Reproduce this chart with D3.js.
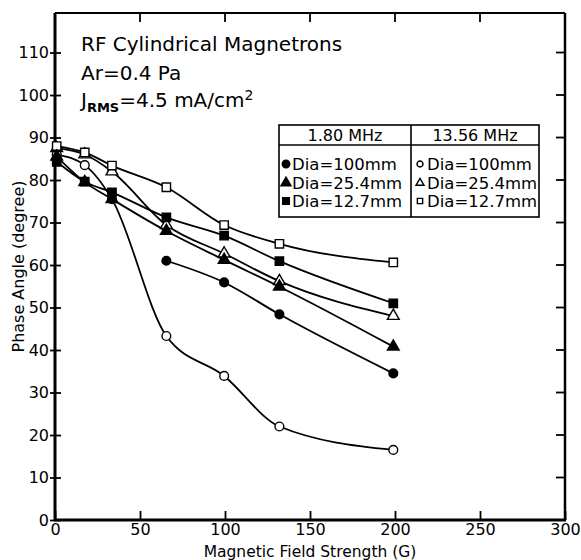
<!DOCTYPE html>
<meta charset="utf-8">
<script src="https://d3js.org/d3.v7.min.js"></script>
<style>
  body { margin: 0; background: #fff; }
  text { font-family: "DejaVu Sans", sans-serif; fill: #000; }
</style>
<div id="chart"></div>
<script>
    // data
    const fields = [1, 17.5, 33.5, 65.5, 99.5, 132, 199];
    const xTicks = [0, 50, 100, 150, 200, 250, 300];
    const yTicks = [0, 10, 20, 30, 40, 50, 60, 70, 80, 90, 100, 110];

    // 1.80 MHz (filled symbols)
    const f180_dia100 = [null, null, null, 61, 55.9, 48.4, 34.5];
    const f180_dia254 = [85.5, 79.5, 75.5, 68, 61.2, 54.9, 40.8];
    const f180_dia127 = [84.3, 79.6, 77.1, 71.2, 66.9, 60.9, 51];
    // 13.56 MHz (open symbols)
    const f1356_dia100 = [86, 83.5, 75.5, 43.3, 33.9, 22, 16.5];
    const f1356_dia254 = [87.5, 86, 82, 69.4, 62.7, 56.2, 48];
    const f1356_dia127 = [88, 86.5, 83.4, 78.3, 69.4, 65, 60.6];

    const series = [
        { values: f1356_dia100, shape: "circle", filled: false },
        { values: f1356_dia254, shape: "triangle", filled: false },
        { values: f1356_dia127, shape: "square", filled: false },
        { values: f180_dia100, shape: "circle", filled: true },
        { values: f180_dia254, shape: "triangle", filled: true },
        { values: f180_dia127, shape: "square", filled: true }
    ];

    const legendLeft = [
        { label: "Dia=100mm", shape: "circle", filled: true },
        { label: "Dia=25.4mm", shape: "triangle", filled: true },
        { label: "Dia=12.7mm", shape: "square", filled: true }
    ];
    const legendRight = [
        { label: "Dia=100mm", shape: "circle", filled: false },
        { label: "Dia=25.4mm", shape: "triangle", filled: false },
        { label: "Dia=12.7mm", shape: "square", filled: false }
    ];

    const W = 581, H = 560;
    const svg = d3.select("#chart").append("svg")
        .attr("width", W).attr("height", H);

    const x = d3.scaleLinear().domain([0, 300]).range([55, 565]);
    const y = d3.scaleLinear().domain([0, 119.3]).range([520, 13]);

    // left axis
    const gy = svg.append("g")
        .attr("transform", `translate(${x(0)},0)`)
        .call(d3.axisLeft(y).tickValues(yTicks).tickFormat(d3.format("d"))
            .tickSizeOuter(0).tickSizeInner(6).tickPadding(0));
    gy.select(".domain").remove();
    gy.selectAll(".tick line").attr("x1", 6).attr("x2", -5).attr("stroke-width", 1.8);
    gy.selectAll(".tick text").attr("font-size", 16).attr("x", -6);

    // bottom axis
    const gx = svg.append("g")
        .attr("transform", `translate(0,${y(0)})`)
        .call(d3.axisBottom(x).tickValues(xTicks).tickFormat(d3.format("d"))
            .tickSizeOuter(0).tickSizeInner(-9).tickPadding(4));
    gx.select(".domain").remove();
    gx.selectAll(".tick line").attr("stroke-width", 1.8);
    gx.selectAll(".tick text").attr("font-size", 16);

    // frame
    const frame = svg.append("g").attr("stroke", "#000").attr("fill", "none");
    frame.append("line").attr("x1", x(0)).attr("x2", x(0))
        .attr("y1", y.range()[1]).attr("y2", y(0)).attr("stroke-width", 3);
    frame.append("line").attr("x1", x(0) - 1).attr("x2", x(300) + 1)
        .attr("y1", y(0)).attr("y2", y(0)).attr("stroke-width", 3);
    frame.append("line").attr("x1", x(0)).attr("x2", x(300))
        .attr("y1", y.range()[1]).attr("y2", y.range()[1]).attr("stroke-width", 2);
    frame.append("line").attr("x1", x(300)).attr("x2", x(300))
        .attr("y1", y.range()[1]).attr("y2", y(0)).attr("stroke-width", 2.5);
    // top ticks
    frame.selectAll(".ttick").data(xTicks.slice(1, -1)).join("line")
        .attr("x1", d => x(d)).attr("x2", d => x(d))
        .attr("y1", y.range()[1]).attr("y2", y.range()[1] + 9).attr("stroke-width", 1.8);
    // right ticks
    frame.selectAll(".rtick").data(yTicks.slice(1)).join("line")
        .attr("x1", x(300) - 9).attr("x2", x(300))
        .attr("y1", d => y(d)).attr("y2", d => y(d)).attr("stroke-width", 1.8);

    // axis titles
    svg.append("text")
        .attr("x", (x(0) + x(300)) / 2).attr("y", 557)
        .attr("text-anchor", "middle").attr("font-size", 15.5)
        .text("Magnetic Field Strength  (G)");
    svg.append("text")
        .attr("transform", `translate(24,${(y(0) + y.range()[1]) / 2}) rotate(-90)`)
        .attr("text-anchor", "middle").attr("font-size", 16)
        .text("Phase Angle  (degree)");

    // annotation
    const note = svg.append("g").attr("font-size", 20);
    note.append("text").attr("x", 81).attr("y", 51).text("RF Cylindrical Magnetrons");
    note.append("text").attr("x", 81).attr("y", 80).text("Ar=0.4 Pa");
    const t3 = note.append("text").attr("x", 81).attr("y", 107);
    t3.append("tspan").text("J");
    t3.append("tspan").attr("font-size", 13).attr("font-weight", "bold").attr("dy", 5).text("RMS");
    t3.append("tspan").attr("dy", -5).text("=4.5 mA/cm");
    t3.append("tspan").attr("font-size", 14).attr("dy", -7).text("2");

    // symbols
    function drawSymbol(g, shape, filled, size) {
        const sym = { circle: d3.symbolCircle, triangle: d3.symbolTriangle, square: d3.symbolSquare }[shape];
        g.append("path")
            .attr("d", d3.symbol().type(sym).size(size)())
            .attr("fill", filled ? "#000" : "#fff")
            .attr("stroke", "#000")
            .attr("stroke-width", 1.4);
    }
    const symSize = { circle: 60, triangle: 60, square: 70 };

    const line = d3.line()
        .defined(d => d[1] != null)
        .x(d => x(d[0])).y(d => y(d[1]))
        .curve(d3.curveMonotoneX);

    const plot = svg.append("g");
    series.forEach(s => {
        const pts = fields.map((f, i) => [f, s.values[i]]);
        plot.append("path")
            .attr("d", line(pts.filter(p => p[1] != null)))
            .attr("fill", "none").attr("stroke", "#000").attr("stroke-width", 1.8);
    });
    series.forEach(s => {
        fields.forEach((f, i) => {
            if (s.values[i] == null) return;
            const g = plot.append("g").attr("transform", `translate(${x(f)},${y(s.values[i])})`);
            drawSymbol(g, s.shape, s.filled, symSize[s.shape]);
        });
    });

    // legend table
    const lg = svg.append("g");
    const L = { x0: 279, x1: 539, xm: 411, y0: 125, yh: 145, y1: 217 };
    lg.append("rect").attr("x", L.x0).attr("y", L.y0)
        .attr("width", L.x1 - L.x0).attr("height", L.y1 - L.y0)
        .attr("fill", "#fff").attr("stroke", "#000").attr("stroke-width", 1.6);
    lg.append("line").attr("x1", L.x0).attr("x2", L.x1).attr("y1", L.yh).attr("y2", L.yh)
        .attr("stroke", "#000").attr("stroke-width", 1.6);
    lg.append("line").attr("x1", L.xm).attr("x2", L.xm).attr("y1", L.y0).attr("y2", L.y1)
        .attr("stroke", "#000").attr("stroke-width", 1.6);
    lg.append("text").attr("x", (L.x0 + L.xm) / 2).attr("y", 141)
        .attr("text-anchor", "middle").attr("font-size", 16).text("1.80 MHz");
    lg.append("text").attr("x", (L.xm + L.x1) / 2).attr("y", 141)
        .attr("text-anchor", "middle").attr("font-size", 16).text("13.56 MHz");
    const rowY = [164, 183, 201];
    legendLeft.forEach((d, i) => {
        const g = lg.append("g").attr("transform", `translate(286,${rowY[i]})`);
        drawSymbol(g, d.shape, d.filled, 44);
        lg.append("text").attr("x", 292).attr("y", rowY[i] + 6)
            .attr("font-size", 16.5).text(d.label);
    });
    legendRight.forEach((d, i) => {
        const g = lg.append("g").attr("transform", `translate(420,${rowY[i]})`);
        drawSymbol(g, d.shape, d.filled, 28);
        lg.append("text").attr("x", 427).attr("y", rowY[i] + 6)
            .attr("font-size", 16.5).text(d.label);
    });
</script>
